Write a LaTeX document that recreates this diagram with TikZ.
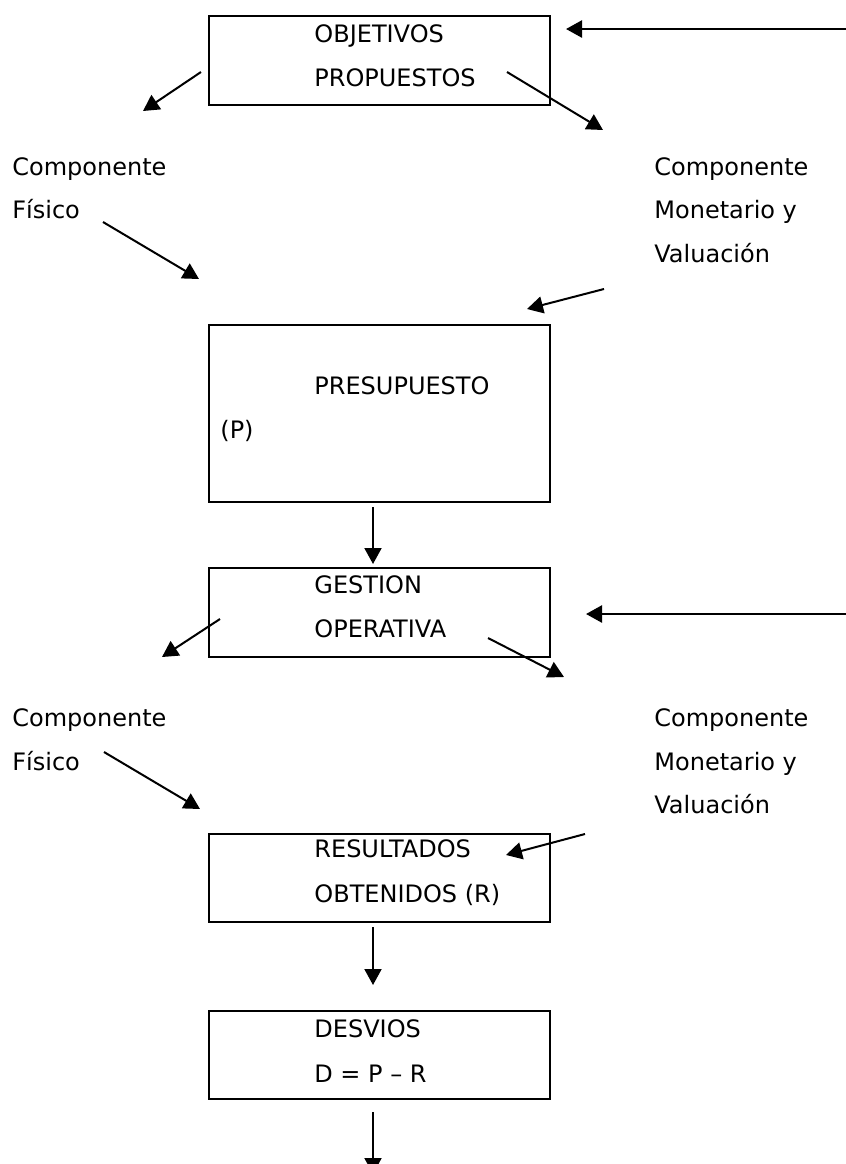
\documentclass[tikz,border=0pt]{standalone}
\usepackage{fontspec}
\setmainfont{DejaVu Sans}
\usetikzlibrary{arrows.meta}

\begin{document}
\begin{tikzpicture}[x=0.5pt, y=-0.5pt,
    caja/.style={draw, line width=1pt, minimum width=170.5pt, inner sep=0pt},
    txt/.style={anchor=base west, inner sep=0pt, font=\fontsize{12}{14}\selectfont},
    flecha/.style={line width=1pt, -{Triangle[length=8pt, width=8.5pt]}},
    larga/.style={flecha, line width=1.2pt}
]
\useasboundingbox (0,0) rectangle (846,1164);

% Objetivos propuestos
\node[caja, minimum height=44.5pt] (obj) at (379.5,60.5) {};
\node[txt] (obj1) at (314,42) {OBJETIVOS};
\node[txt] (obj2) at (314,86) {PROPUESTOS};

% Componentes (arriba)
\node[txt] (fis1) at (12,175) {Componente};
\node[txt] (fis2) at (12,218) {Físico};
\node[txt] (mon1) at (654,175) {Componente};
\node[txt] (mon2) at (654,218) {Monetario y};
\node[txt] (mon3) at (654,262) {Valuación};

% Presupuesto
\node[caja, minimum height=88.5pt] (pres) at (379.5,413.5) {};
\node[txt] (pres1) at (314,394) {PRESUPUESTO};
\node[txt] (pres2) at (220,438) {(P)};

% Gestion operativa
\node[caja, minimum height=44.5pt] (gest) at (379.5,612.5) {};
\node[txt] (gest1) at (314,593) {GESTION};
\node[txt] (gest2) at (314,637) {OPERATIVA};

% Componentes (abajo)
\node[txt] (fis3) at (12,726) {Componente};
\node[txt] (fis4) at (12,770) {Físico};
\node[txt] (mon4) at (654,726) {Componente};
\node[txt] (mon5) at (654,770) {Monetario y};
\node[txt] (mon6) at (654,813) {Valuación};

% Resultados
\node[caja, minimum height=44pt] (res) at (379.5,878) {};
\node[txt] (res1) at (314,857) {RESULTADOS};
\node[txt] (res2) at (314,902) {OBTENIDOS (R)};

% Desvios
\node[caja, minimum height=44pt] (desv) at (379.5,1055) {};
\node[txt] (desv1) at (314,1037) {DESVIOS};
\node[txt] (desv2) at (314,1082) {D = P – R};

% Extremos de flechas
\coordinate (a1) at (201,72);   \coordinate (b1) at (143,111);
\coordinate (a2) at (507,72);   \coordinate (b2) at (603,130);
\coordinate (a3) at (850,29);   \coordinate (b3) at (566,29);
\coordinate (a4) at (103,222);  \coordinate (b4) at (199,279);
\coordinate (a5) at (604,289);  \coordinate (b5) at (527,309);
\coordinate (a6) at (373,507);  \coordinate (b6) at (373,564);
\coordinate (a7) at (220,619);  \coordinate (b7) at (162,657);
\coordinate (a8) at (488,638);  \coordinate (b8) at (564,677);
\coordinate (a9) at (850,614);  \coordinate (b9) at (586,614);
\coordinate (a10) at (104,752); \coordinate (b10) at (200,809);
\coordinate (a11) at (585,834); \coordinate (b11) at (506,855);
\coordinate (a12) at (373,927); \coordinate (b12) at (373,985);
\coordinate (a13) at (373,1112); \coordinate (b13) at (373,1174);

% Flechas
\draw[flecha] (a1) -- (b1);
\draw[flecha] (a2) -- (b2);
\draw[larga] (a3) -- (b3);
\draw[flecha] (a4) -- (b4);
\draw[flecha] (a5) -- (b5);
\draw[flecha] (a6) -- (b6);
\draw[flecha] (a7) -- (b7);
\draw[flecha] (a8) -- (b8);
\draw[larga] (a9) -- (b9);
\draw[flecha] (a10) -- (b10);
\draw[flecha] (a11) -- (b11);
\draw[flecha] (a12) -- (b12);
\draw[flecha] (a13) -- (b13);

\end{tikzpicture}
\end{document}
